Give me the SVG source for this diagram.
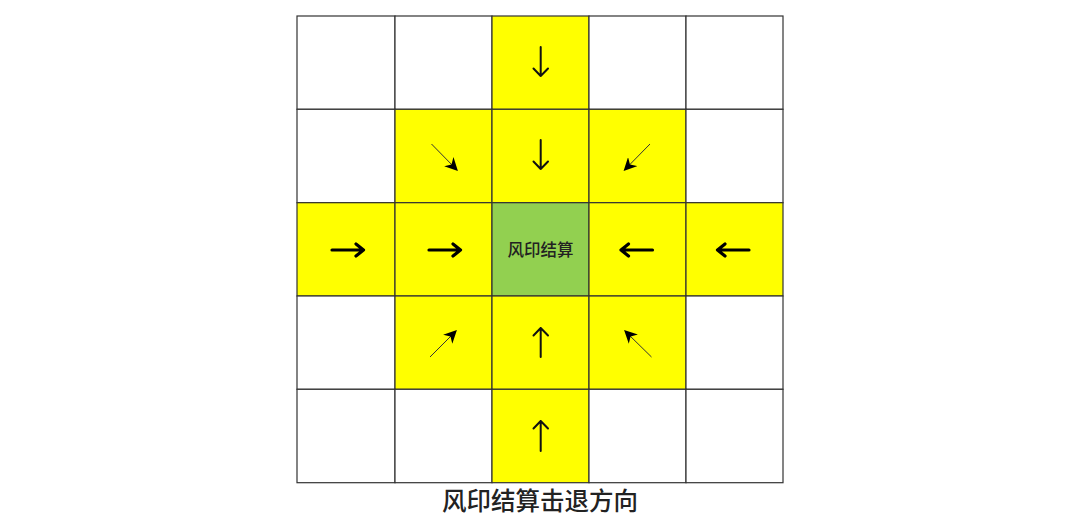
<svg xmlns="http://www.w3.org/2000/svg" width="1080" height="524" viewBox="0 0 1080 524">
<style>
.c{stroke:#333;stroke-width:1.2}
.w{fill:#fff}
.y{fill:#ffff00}
.g{fill:#92d050}
.v{stroke:#111;stroke-width:2;fill:none;stroke-linecap:round;stroke-linejoin:round}
.h{stroke:#000;stroke-width:3.2;fill:none;stroke-linecap:round;stroke-linejoin:round}
.d{stroke:#333;stroke-width:1;fill:none}
.t{font-family:"Noto Sans CJK SC","Noto Sans",sans-serif;fill:#222}
</style>
<defs>
<marker id="ah" viewBox="0 0 10 10" refX="9" refY="5" markerWidth="13" markerHeight="13" markerUnits="userSpaceOnUse" orient="auto">
<path d="M0,0 L10,5 L0,10 L3,5 Z" fill="#000"/>
</marker>
</defs>
<rect width="1080" height="524" fill="#fff"/>
<g id="cells">
<g id="r0c0"><rect class="c w" x="297" y="16" width="98" height="93.3"/></g>
<g id="r0c1"><rect class="c w" x="395" y="16" width="97" height="93.3"/></g>
<g id="r0c2"><rect class="c y" x="492" y="16" width="97" height="93.3"/><path class="v" d="M540.7,47 V76 M533.5,68.5 L540.7,76 L548,68.5"/></g>
<g id="r0c3"><rect class="c w" x="589" y="16" width="97" height="93.3"/></g>
<g id="r0c4"><rect class="c w" x="686" y="16" width="97" height="93.3"/></g>

<g id="r1c0"><rect class="c w" x="297" y="109.3" width="98" height="93.4"/></g>
<g id="r1c1"><rect class="c y" x="395" y="109.3" width="97" height="93.4"/><line class="d" x1="431.5" y1="144" x2="457" y2="170" marker-end="url(#ah)"/></g>
<g id="r1c2"><rect class="c y" x="492" y="109.3" width="97" height="93.4"/><path class="v" d="M540.7,140 V169 M533.5,161.5 L540.7,169 L548,161.5"/></g>
<g id="r1c3"><rect class="c y" x="589" y="109.3" width="97" height="93.4"/><line class="d" x1="650" y1="144" x2="624.5" y2="170" marker-end="url(#ah)"/></g>
<g id="r1c4"><rect class="c w" x="686" y="109.3" width="97" height="93.4"/></g>

<g id="r2c0"><rect class="c y" x="297" y="202.7" width="98" height="93.3"/><path class="h" d="M332,250 H363.5 M356,244 L363.5,250 L356,256"/></g>
<g id="r2c1"><rect class="c y" x="395" y="202.7" width="97" height="93.3"/><path class="h" d="M429,250 H460.5 M453,244 L460.5,250 L453,256"/></g>
<g id="r2c2"><rect class="c g" x="492" y="202.7" width="97" height="93.3"/><text class="t" x="540.5" y="256" font-size="16.5" font-weight="500" text-anchor="middle">风印结算</text></g>
<g id="r2c3"><rect class="c y" x="589" y="202.7" width="97" height="93.3"/><path class="h" d="M652.5,250 H621 M628.5,244 L621,250 L628.5,256"/></g>
<g id="r2c4"><rect class="c y" x="686" y="202.7" width="97" height="93.3"/><path class="h" d="M749,250 H717.5 M725,244 L717.5,250 L725,256"/></g>

<g id="r3c0"><rect class="c w" x="297" y="296" width="98" height="93.3"/></g>
<g id="r3c1"><rect class="c y" x="395" y="296" width="97" height="93.3"/><line class="d" x1="430" y1="357" x2="456" y2="331" marker-end="url(#ah)"/></g>
<g id="r3c2"><rect class="c y" x="492" y="296" width="97" height="93.3"/><path class="v" d="M540.7,357 V328 M533.5,335.5 L540.7,328 L548,335.5"/></g>
<g id="r3c3"><rect class="c y" x="589" y="296" width="97" height="93.3"/><line class="d" x1="651.5" y1="357" x2="625" y2="331" marker-end="url(#ah)"/></g>
<g id="r3c4"><rect class="c w" x="686" y="296" width="97" height="93.3"/></g>

<g id="r4c0"><rect class="c w" x="297" y="389.3" width="98" height="93.4"/></g>
<g id="r4c1"><rect class="c w" x="395" y="389.3" width="97" height="93.4"/></g>
<g id="r4c2"><rect class="c y" x="492" y="389.3" width="97" height="93.4"/><path class="v" d="M540.7,451 V421 M533.5,428.5 L540.7,421 L548,428.5"/></g>
<g id="r4c3"><rect class="c w" x="589" y="389.3" width="97" height="93.4"/></g>
<g id="r4c4"><rect class="c w" x="686" y="389.3" width="97" height="93.4"/></g>
</g>
<g id="connectors"></g>
<g id="caption"><text class="t" x="540" y="510" font-size="24.5" font-weight="500" text-anchor="middle" fill="#1a1a1a">风印结算击退方向</text></g>
</svg>
